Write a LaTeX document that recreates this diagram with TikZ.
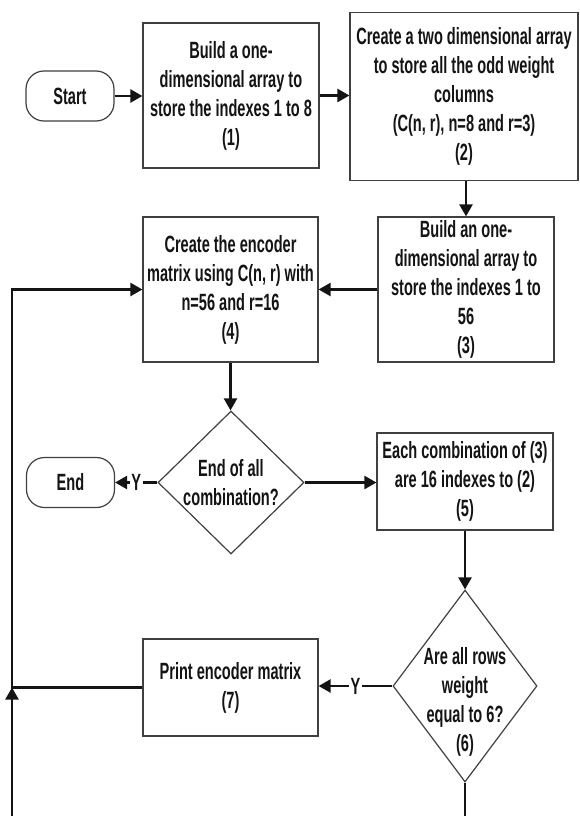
\documentclass[tikz,border=0pt]{standalone}
\usepackage{fontspec}
\setmainfont{Liberation Sans}[FakeStretch=0.62]
\usetikzlibrary{shapes.geometric,arrows.meta}
\definecolor{boxgray}{HTML}{404040}
\definecolor{ink}{HTML}{141414}
\newcommand\flowtxt{\fontsize{23.5}{29}\selectfont\bfseries}
\tikzset{
  box/.style={draw=boxgray, line width=1.2pt, inner sep=0pt, align=center, font=\flowtxt, text=ink, fill=white},
  term/.style={box, rounded corners=18pt, minimum width=88pt, minimum height=50pt},
  dia/.style={draw=boxgray, line width=1.2pt, diamond, inner sep=0pt, fill=white},
  dlab/.style={font=\flowtxt, align=center, text=ink},
  arr/.style={draw=ink, line width=2.4pt, -{Triangle[length=12pt,width=13pt]}},
  plain/.style={draw=ink, line width=2.4pt},
  ylab/.style={fill=white, inner sep=1.5pt, font=\flowtxt, text=ink}
}
\begin{document}
\begin{tikzpicture}[x=1pt,y=-1pt]
\useasboundingbox[fill=white] (0,0) rectangle (579,816);
% nodes
\node[term] (start) at (70,96) {Start};
\node[box, minimum width=176pt, minimum height=145pt] (b1) at (231,95.5)
  {Build a one-\\dimensional array to\\store the indexes 1 to 8\\(1)};
\node[box, minimum width=228pt, minimum height=168pt] (b2) at (464,96.5)
  {Create a two dimensional array\\to store all the odd weight\\columns\\(C(n, r), n=8 and r=3)\\(2)};
\node[box, minimum width=176pt, minimum height=145pt] (b3) at (466,289.5)
  {Build an one-\\dimensional array to\\store the indexes 1 to\\56\\(3)};
\node[box, minimum width=175pt, minimum height=145pt] (b4) at (230.5,289.5)
  {Create the encoder\\matrix using C(n, r) with\\n=56 and r=16\\(4)};
\node[dia, minimum width=146pt, minimum height=143pt,
  label={[dlab]center:{End of all\\combination?}}] (d1) at (231,482.5) {};
\node[term] (end) at (70.5,482.5) {End};
\node[box, minimum width=176pt, minimum height=97pt] (b5) at (465,481.5)
  {Each combination of (3)\\are 16 indexes to (2)\\(5)};
\node[dia, minimum width=144pt, minimum height=192pt,
  label={[dlab, yshift=-16pt]center:{Are all rows\\weight\\equal to 6?\\(6)}}] (d2) at (465,686) {};
\node[box, minimum width=175pt, minimum height=97pt] (b7) at (230.5,687.5)
  {Print encoder matrix\\(7)};
% free ends of the loop
\coordinate (turnL) at (12,687.5);
\coordinate (botL) at (12,816);
\coordinate (botR) at (465,816);
% connectors
\draw[arr] (start.east) -- (start.east -| b1.west);
\draw[arr] (b1.east) -- (b1.east -| b2.west);
\draw[arr] (b3.north |- b2.south) -- (b3.north);
\draw[arr] (b3.west) -- (b3.west -| b4.east);
\draw[arr] (b4.south) -- (b4.south |- d1.north);
\draw[arr] (d1.west) -- node[ylab] {Y} (d1.west -| end.east);
\draw[arr] (d1.east) -- (d1.east -| b5.west);
\draw[arr] (b5.south) -- (d2.north);
\draw[arr] (d2.west) -- node[ylab] {Y} (d2.west -| b7.east);
\draw[arr] (b7.west) -- (turnL) |- (b4.west);
\draw[plain] (d2.south) -- (botR);
\draw[arr] (botL) -- (turnL);
\end{tikzpicture}
\end{document}
